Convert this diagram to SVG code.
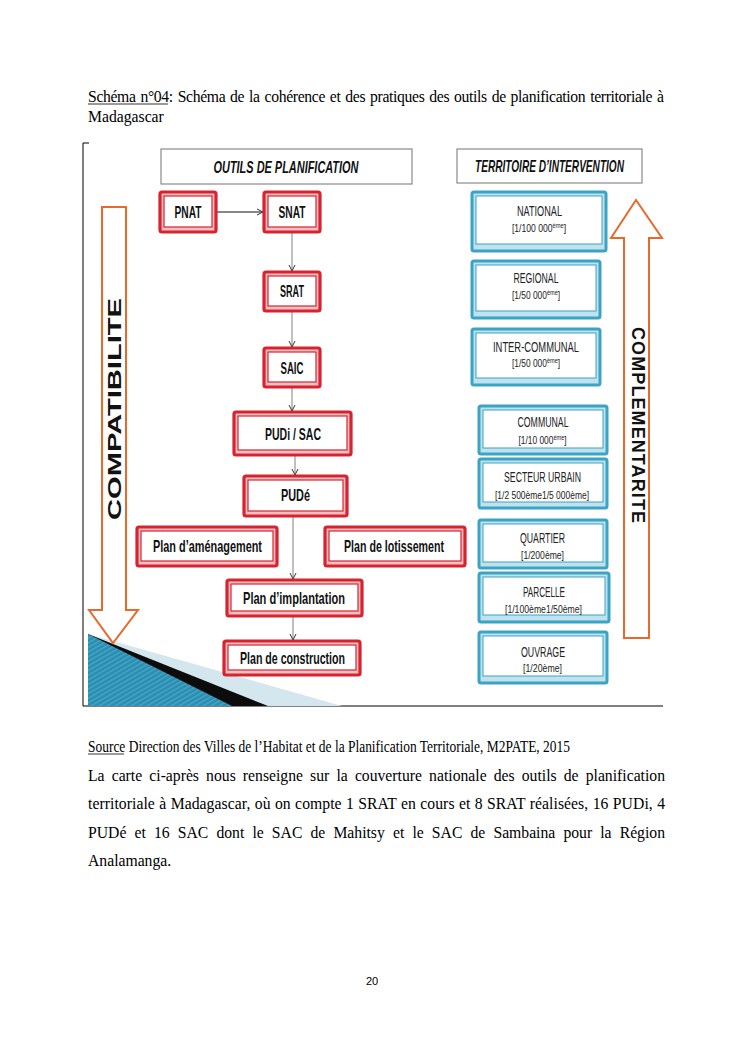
<svg xmlns="http://www.w3.org/2000/svg" width="745" height="1053" viewBox="0 0 745 1053">
<style>
.pg{font-family:"Liberation Serif",serif;font-size:15.7px;fill:#000}
.hd{font-family:"Liberation Sans",sans-serif;font-size:16.5px;font-weight:bold;font-style:italic;fill:#111}
.hbox{fill:#fff;stroke:#8a8a8a;stroke-width:1.2}
.ro{fill:#f2c0c4;stroke:#d8232f;stroke-width:3.2}
.ri{fill:#fff;stroke:#d8232f;stroke-width:1.2}
.rt{font-family:"Liberation Sans",sans-serif;font-size:16.5px;font-weight:bold;fill:#111;text-anchor:middle}
.bo{fill:#bfe2ee;stroke:#3ba3c3;stroke-width:3}
.bi{fill:#fff;stroke:#3ba3c3;stroke-width:1}
.bt{font-family:"Liberation Sans",sans-serif;font-size:14px;fill:#222;text-anchor:middle}
.bs{font-family:"Liberation Sans",sans-serif;font-size:10.5px;fill:#222;text-anchor:middle}
.sup{font-size:7px}
.arr{fill:#fff;stroke:#e8692a;stroke-width:2}
.at{font-family:"Liberation Sans",sans-serif;font-size:18px;font-weight:bold;fill:#111;text-anchor:middle}
.cn{fill:none;stroke:#808080;stroke-width:1}
.frame{fill:none;stroke:#000;stroke-width:1}
</style>
<defs>
<marker id="ah" markerWidth="8" markerHeight="8" refX="7" refY="4" orient="auto" markerUnits="userSpaceOnUse">
<path d="M1,1 L7,4 L1,7" fill="none" stroke="#333" stroke-width="1"/>
</marker>
<pattern id="stripes" width="4" height="4" patternUnits="userSpaceOnUse" patternTransform="rotate(60)">
<rect width="4" height="4" fill="#2a8db0"/>
<rect width="1.5" height="4" fill="#45a5c6"/>
</pattern>
</defs>
<rect width="745" height="1053" fill="#fff"/>

<!-- page caption -->
<g id="caption">
<text class="pg" x="88" y="102" font-size="14.8" word-spacing="1.3" textLength="576" lengthAdjust="spacing">Schéma n°04: Schéma de la cohérence et des pratiques des outils de planification territoriale à</text>
<line x1="88" y1="104" x2="168" y2="104" stroke="#000" stroke-width="0.8"/>
<text class="pg" x="88" y="122" font-size="14.8">Madagascar</text>
</g>

<!-- frame -->
<g id="frame">
<path class="frame" d="M89,143 H83 V706 H663"/>
</g>

<!-- bottom-left graphic -->
<g id="corner-graphic">
<polygon points="88,634 342,706 88,706" fill="#d4e6ee"/>
<polygon points="88,634 268,706 88,706" fill="#0c0c0c"/>
<polygon points="88,634 232,706 88,706" fill="url(#stripes)"/>
</g>

<!-- headers -->
<g id="header-outils">
<rect class="hbox" x="161" y="149" width="251" height="35"/>
<text class="hd" x="286" y="173" text-anchor="middle" textLength="145" lengthAdjust="spacingAndGlyphs">OUTILS DE PLANIFICATION</text>
</g>
<g id="header-territoire">
<rect class="hbox" x="457" y="149" width="185" height="34"/>
<text class="hd" x="549.5" y="171.5" text-anchor="middle" textLength="149" lengthAdjust="spacingAndGlyphs">TERRITOIRE D’INTERVENTION</text>
</g>

<!-- orange arrows -->
<g id="arrow-compatibilite">
<polygon class="arr" points="102,207 126,207 126,610 138,610 113,643 89,610 102,610"/>
<text class="at" transform="translate(120.5,409) rotate(-90)" textLength="222" lengthAdjust="spacingAndGlyphs">COMPATIBILITE</text>
</g>
<g id="arrow-complementarite">
<polygon class="arr" points="636,200 662,238 649,238 649,638 624,638 624,238 611,238"/>
<text class="at" font-size="17" transform="translate(631.5,425) rotate(90)" textLength="196" lengthAdjust="spacing">COMPLEMENTARITE</text>
</g>

<!-- connectors -->
<g id="connectors">
<path class="cn" d="M216,212 H263" style="stroke:#111" marker-end="url(#ah)"/>
<path class="cn" d="M292,232 V271" marker-end="url(#ah)"/>
<path class="cn" d="M292,311 V347" marker-end="url(#ah)"/>
<path class="cn" d="M292,387 V411" marker-end="url(#ah)"/>
<path class="cn" d="M295,455 V475" marker-end="url(#ah)"/>
<path class="cn" d="M293,516 V579" marker-end="url(#ah)"/>
<path class="cn" d="M293,616 V640" marker-end="url(#ah)"/>
</g>

<!-- red nodes -->
<g id="node-pnat">
<rect class="ro" x="160" y="192" width="56" height="40" rx="2"/>
<rect class="ri" x="164" y="196" width="48" height="31"/>
<text class="rt" x="188" y="218" textLength="27" lengthAdjust="spacingAndGlyphs">PNAT</text>
</g>
<g id="node-snat">
<rect class="ro" x="264" y="192" width="56" height="40" rx="2"/>
<rect class="ri" x="268" y="196" width="48" height="31"/>
<text class="rt" x="292" y="218" textLength="27" lengthAdjust="spacingAndGlyphs">SNAT</text>
</g>
<g id="node-srat">
<rect class="ro" x="264" y="272" width="56" height="39" rx="2"/>
<rect class="ri" x="268" y="276" width="48" height="30"/>
<text class="rt" x="292" y="297" textLength="24" lengthAdjust="spacingAndGlyphs">SRAT</text>
</g>
<g id="node-saic">
<rect class="ro" x="264" y="348" width="56" height="39" rx="2"/>
<rect class="ri" x="268" y="352" width="48" height="30"/>
<text class="rt" x="292" y="374" textLength="23" lengthAdjust="spacingAndGlyphs">SAIC</text>
</g>
<g id="node-pudi-sac">
<rect class="ro" x="234" y="412" width="117" height="43" rx="2"/>
<rect class="ri" x="238" y="416" width="109" height="34"/>
<text class="rt" x="293" y="440" textLength="56" lengthAdjust="spacingAndGlyphs">PUDi / SAC</text>
</g>
<g id="node-pude">
<rect class="ro" x="244" y="476" width="103" height="40" rx="2"/>
<rect class="ri" x="248" y="480" width="95" height="31"/>
<text class="rt" x="295.5" y="501" textLength="29" lengthAdjust="spacingAndGlyphs">PUDé</text>
</g>
<g id="node-plan-amenagement">
<rect class="ro" x="137" y="527" width="140" height="39" rx="2"/>
<rect class="ri" x="141" y="531" width="132" height="30"/>
<text class="rt" x="207.5" y="552" textLength="109" lengthAdjust="spacingAndGlyphs">Plan d’aménagement</text>
</g>
<g id="node-plan-lotissement">
<rect class="ro" x="325" y="527" width="140" height="39" rx="2"/>
<rect class="ri" x="329" y="531" width="132" height="30"/>
<text class="rt" x="394" y="552" textLength="100" lengthAdjust="spacingAndGlyphs">Plan de lotissement</text>
</g>
<g id="node-plan-implantation">
<rect class="ro" x="227" y="580" width="135" height="36" rx="2"/>
<rect class="ri" x="231" y="584" width="127" height="27"/>
<text class="rt" x="294" y="604" textLength="102" lengthAdjust="spacingAndGlyphs">Plan d’implantation</text>
</g>
<g id="node-plan-construction">
<rect class="ro" x="224" y="641" width="136" height="34" rx="2"/>
<rect class="ri" x="228" y="645" width="128" height="25"/>
<text class="rt" x="292.5" y="664" textLength="105" lengthAdjust="spacingAndGlyphs">Plan de construction</text>
</g>

<!-- blue nodes -->
<g id="node-national">
<rect class="bo" x="472" y="192" width="134" height="59" rx="2"/>
<rect class="bi" x="476" y="196" width="126" height="48"/>
<text class="bt" x="539.5" y="216" textLength="45" lengthAdjust="spacingAndGlyphs">NATIONAL</text>
<g transform="translate(539,232) scale(0.82,1)"><text class="bs" x="0" y="0">[1/100 000<tspan class="sup" dy="-4">ème</tspan><tspan dy="4">]</tspan></text></g>
</g>
<g id="node-regional">
<rect class="bo" x="472" y="261" width="128" height="57" rx="2"/>
<rect class="bi" x="476" y="265" width="120" height="46"/>
<text class="bt" x="536" y="283" textLength="45" lengthAdjust="spacingAndGlyphs">REGIONAL</text>
<g transform="translate(536,299) scale(0.8,1)"><text class="bs" x="0" y="0">[1/50 000<tspan class="sup" dy="-4">ème</tspan><tspan dy="4">]</tspan></text></g>
</g>
<g id="node-inter-communal">
<rect class="bo" x="472" y="329" width="128" height="56" rx="2"/>
<rect class="bi" x="476" y="333" width="120" height="45"/>
<text class="bt" x="536" y="352" textLength="86" lengthAdjust="spacingAndGlyphs">INTER-COMMUNAL</text>
<g transform="translate(536,367) scale(0.8,1)"><text class="bs" x="0" y="0">[1/50 000<tspan class="sup" dy="-4">ème</tspan><tspan dy="4">]</tspan></text></g>
</g>
<g id="node-communal">
<rect class="bo" x="479" y="406" width="128" height="48" rx="2"/>
<rect class="bi" x="483" y="410" width="120" height="38"/>
<text class="bt" x="543" y="427" textLength="51" lengthAdjust="spacingAndGlyphs">COMMUNAL</text>
<g transform="translate(542.5,444) scale(0.8,1)"><text class="bs" x="0" y="0">[1/10 000<tspan class="sup" dy="-4">ème</tspan><tspan dy="4">]</tspan></text></g>
</g>
<g id="node-secteur-urbain">
<rect class="bo" x="479" y="459" width="128" height="49" rx="2"/>
<rect class="bi" x="483" y="463" width="120" height="39"/>
<text class="bt" x="542.5" y="482" textLength="77" lengthAdjust="spacingAndGlyphs">SECTEUR URBAIN</text>
<text class="bs" x="542" y="499" textLength="94" lengthAdjust="spacingAndGlyphs">[1/2 500ème1/5 000ème]</text>
</g>
<g id="node-quartier">
<rect class="bo" x="479" y="520" width="128" height="48" rx="2"/>
<rect class="bi" x="483" y="524" width="120" height="38"/>
<text class="bt" x="542.5" y="543" textLength="45" lengthAdjust="spacingAndGlyphs">QUARTIER</text>
<text class="bs" x="542.5" y="559" textLength="43" lengthAdjust="spacingAndGlyphs">[1/200ème]</text>
</g>
<g id="node-parcelle">
<rect class="bo" x="479" y="573" width="130" height="49" rx="2"/>
<rect class="bi" x="483" y="577" width="122" height="38"/>
<text class="bt" x="544" y="597" textLength="42" lengthAdjust="spacingAndGlyphs">PARCELLE</text>
<text class="bs" x="543.5" y="613" textLength="77" lengthAdjust="spacingAndGlyphs">[1/100ème1/50ème]</text>
</g>
<g id="node-ouvrage">
<rect class="bo" x="479" y="632" width="128" height="51" rx="2"/>
<rect class="bi" x="483" y="636" width="120" height="40"/>
<text class="bt" x="543" y="657" textLength="44" lengthAdjust="spacingAndGlyphs">OUVRAGE</text>
<text class="bs" x="542.5" y="672" textLength="39" lengthAdjust="spacingAndGlyphs">[1/20ème]</text>
</g>

<!-- source and paragraph -->
<g id="body-text">
<text class="pg" x="88" y="752" font-size="14.5" textLength="482" lengthAdjust="spacingAndGlyphs">Source  Direction des Villes de l’Habitat et de la Planification Territoriale, M2PATE, 2015</text>
<line x1="88" y1="754" x2="124" y2="754" stroke="#000" stroke-width="0.8"/>
<text class="pg" x="88" y="781" word-spacing="3.2" textLength="577" lengthAdjust="spacing">La carte ci-après nous renseigne sur la couverture nationale des outils de planification</text>
<text class="pg" x="88" y="809" word-spacing="0.4" textLength="577" lengthAdjust="spacing">territoriale à Madagascar, où on compte 1 SRAT en cours et 8 SRAT réalisées, 16 PUDi, 4</text>
<text class="pg" x="88" y="838" word-spacing="4.2" textLength="577" lengthAdjust="spacing">PUDé et 16 SAC dont le SAC de Mahitsy et le SAC de Sambaina pour la Région</text>
<text class="pg" x="88" y="866">Analamanga.</text>
<text x="372" y="985" text-anchor="middle" font-family="Liberation Sans, sans-serif" font-size="11" fill="#000">20</text>
</g>
</svg>
